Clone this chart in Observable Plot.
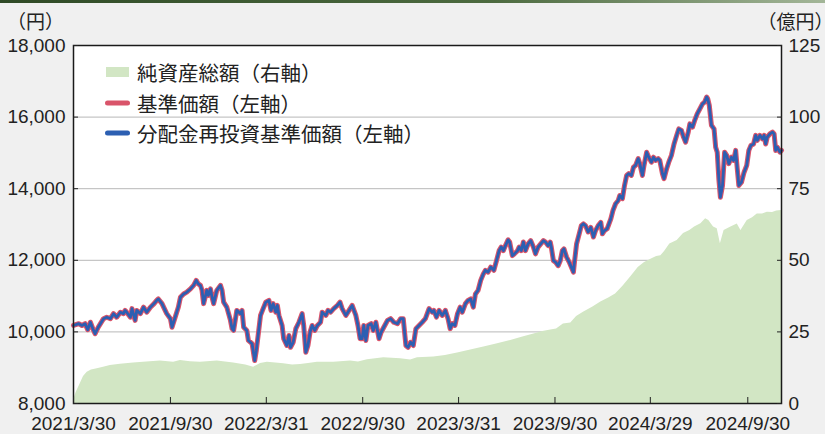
<!DOCTYPE html>
<html><head><meta charset="utf-8">
<script src="https://cdn.jsdelivr.net/npm/d3@7"></script>
<script src="https://cdn.jsdelivr.net/npm/@observablehq/plot@0.6"></script>
<style>
html,body{margin:0;padding:0;background:#f0f0f0;}
#wrap{position:relative;width:825px;height:434px;overflow:hidden;background:#f0f0f0;}
#topbar{position:absolute;left:0;top:0;width:825px;height:3px;background:linear-gradient(to right,#2f4a26,#4d6b40 60%,#a3b698);}
#chart{position:absolute;left:0;top:0;}
.unit{position:absolute;top:11px;font-family:"Noto Sans CJK JP";font-size:19px;line-height:1;color:#222;white-space:nowrap;}
#unitR{font-feature-settings:"halt" 1;}
#legend{position:absolute;left:105px;top:57px;font-family:"Noto Sans CJK JP";font-size:20.5px;color:#222;}
.row{display:flex;align-items:center;height:30.5px;white-space:nowrap;}
.sw{width:25px;margin-right:7px;flex:none;}
</style>
</head><body>
<div id="wrap">
  <div id="chart"></div>
  <div id="topbar"></div>
  <div class="unit" id="unitL" style="left:7px">（円）</div>
  <div class="unit" id="unitR" style="left:767px">（億円）</div>
  <div id="legend"></div>
</div>
<script>
// ---- data ----
const seriesNames = ["純資産総額（右軸）", "基準価額（左軸）", "分配金再投資基準価額（左軸）"];
const seriesColors = ["#d2e6c4", "#d9546a", "#2c5fb2"];

const navDates = [
"2021-03-30","2021-04-09","2021-04-15","2021-04-21","2021-04-26","2021-05-01","2021-05-07","2021-05-10","2021-05-16","2021-05-26",
"2021-06-01","2021-06-08","2021-06-14","2021-06-20","2021-06-27","2021-07-03","2021-07-06","2021-07-09","2021-07-16","2021-07-19",
"2021-07-25","2021-07-28","2021-08-04","2021-08-10","2021-08-16","2021-08-23","2021-08-30","2021-09-04","2021-09-07","2021-09-14",
"2021-09-20","2021-09-23","2021-09-30","2021-10-03","2021-10-09","2021-10-15","2021-10-19","2021-10-25","2021-10-31","2021-11-07",
"2021-11-13","2021-11-18","2021-11-22","2021-11-26","2021-11-29","2021-12-02","2021-12-05","2021-12-08","2021-12-11","2021-12-15",
"2021-12-18","2021-12-21","2021-12-27","2022-01-03","2022-01-06","2022-01-09","2022-01-15","2022-01-22","2022-01-25","2022-01-28",
"2022-02-03","2022-02-10","2022-02-13","2022-02-16","2022-02-22","2022-02-25","2022-03-04","2022-03-09","2022-03-12","2022-03-17",
"2022-03-20","2022-03-25","2022-03-30","2022-04-05","2022-04-09","2022-04-13","2022-04-18","2022-04-21","2022-04-24","2022-04-30",
"2022-05-03","2022-05-09","2022-05-13","2022-05-16","2022-05-21","2022-05-26","2022-06-01","2022-06-07","2022-06-10","2022-06-14",
"2022-06-18","2022-06-22","2022-06-26","2022-07-01","2022-07-06","2022-07-12","2022-07-15","2022-07-22","2022-07-26","2022-07-31",
"2022-08-06","2022-08-13","2022-08-18","2022-08-22","2022-08-29","2022-09-04","2022-09-10","2022-09-17","2022-09-21","2022-09-25",
"2022-09-29","2022-10-02","2022-10-06","2022-10-10","2022-10-16","2022-10-20","2022-10-25","2022-10-31","2022-11-04","2022-11-09",
"2022-11-16","2022-11-22","2022-11-28","2022-12-05","2022-12-11","2022-12-16","2022-12-21","2022-12-25","2022-12-30","2023-01-04",
"2023-01-09","2023-01-15","2023-01-21","2023-01-27","2023-02-03","2023-02-09","2023-02-12","2023-02-17","2023-02-22","2023-02-28",
"2023-03-06","2023-03-11","2023-03-15","2023-03-19","2023-03-24","2023-03-29","2023-04-03","2023-04-07","2023-04-13","2023-04-18",
"2023-04-23","2023-04-28","2023-05-02","2023-05-07","2023-05-12","2023-05-17","2023-05-21","2023-05-26","2023-05-31","2023-06-06",
"2023-06-11","2023-06-16","2023-06-20","2023-06-24","2023-06-28","2023-07-03","2023-07-06","2023-07-11","2023-07-15","2023-07-21",
"2023-07-24","2023-07-28","2023-08-01","2023-08-05","2023-08-10","2023-08-15","2023-08-20","2023-08-24","2023-08-29","2023-09-03",
"2023-09-08","2023-09-12","2023-09-17","2023-09-21","2023-09-23","2023-09-27","2023-10-01","2023-10-06","2023-10-10","2023-10-14",
"2023-10-17","2023-10-22","2023-10-27","2023-10-31","2023-11-04","2023-11-06","2023-11-10","2023-11-15","2023-11-19","2023-11-23",
"2023-11-27","2023-12-02","2023-12-07","2023-12-12","2023-12-16","2023-12-21","2023-12-26","2023-12-29","2024-01-02","2024-01-07",
"2024-01-14","2024-01-18","2024-01-23","2024-01-28","2024-01-31","2024-02-05","2024-02-09","2024-02-13","2024-02-17","2024-02-22",
"2024-02-26","2024-03-01","2024-03-06","2024-03-09","2024-03-14","2024-03-17","2024-03-22","2024-03-26","2024-03-31","2024-04-04",
"2024-04-08","2024-04-13","2024-04-16","2024-04-21","2024-04-24","2024-04-29","2024-05-03","2024-05-08","2024-05-13","2024-05-18",
"2024-05-22","2024-05-27","2024-05-31","2024-06-04","2024-06-09","2024-06-12","2024-06-17","2024-06-21","2024-06-26","2024-07-01",
"2024-07-06","2024-07-10","2024-07-14","2024-07-16","2024-07-19","2024-07-23","2024-07-28","2024-07-31","2024-08-03","2024-08-06",
"2024-08-09","2024-08-13","2024-08-17","2024-08-21","2024-08-25","2024-08-30","2024-09-03","2024-09-07","2024-09-10","2024-09-13",
"2024-09-18","2024-09-23","2024-09-28","2024-10-02","2024-10-06","2024-10-11","2024-10-15","2024-10-18","2024-10-23","2024-10-28",
"2024-10-31","2024-11-03","2024-11-06","2024-11-11","2024-11-16","2024-11-19","2024-11-22","2024-11-25","2024-11-30","2024-12-03"
];
// 基準価額 (円)
const navValues = [
10180,10230,10180,10230,10060,10270,10040,9950,10130,10370,
10410,10370,10510,10410,10550,10510,10600,10550,10410,10650,
10320,10600,10510,10690,10550,10690,10790,10880,10920,10790,
10600,10510,10370,10130,10410,10690,10970,11060,11110,11200,
11300,11440,11340,11300,11160,10790,10970,11160,11020,11200,
10970,10790,11160,11300,11160,10830,10690,10320,10090,10040,
10600,10510,10600,10130,10040,9760,9670,9200,9480,10090,
10460,10650,10830,10880,10600,10790,10550,10740,10460,10180,
9810,9620,9900,9570,9710,10090,10270,10510,10180,9430,
9620,9990,10180,10040,10180,10270,10550,10460,10600,10550,
10650,10740,10830,10650,10460,10600,10740,10460,10180,9810,
9810,10180,9760,10180,10230,10040,10270,9810,9990,10130,
10320,10370,10270,10230,10370,10370,9620,9570,9710,9620,
10090,10180,10270,10370,10650,10550,10600,10410,10600,10460,
10600,10370,10090,10230,10180,10510,10690,10550,10790,10880,
10920,10690,11060,11160,11440,11620,11720,11670,11810,11720,
11990,12270,12370,12270,12410,12570,12510,12130,12180,12270,
12370,12270,12510,12270,12460,12550,12370,12180,12370,12460,
12550,12510,12410,12510,12370,11990,11950,11850,11990,12270,
12320,12090,11950,11810,11670,11950,12460,12740,12970,13020,
12970,12790,12920,12650,12830,12970,13060,12740,12830,12880,
13160,13390,13580,13670,13810,13720,14090,14370,14420,14370,
14600,14650,14840,14700,14370,14650,15020,14880,14740,14880,
14790,14840,14790,14420,14280,14560,14740,14930,15250,15490,
15670,15630,15440,15300,15580,15810,15720,15900,16090,16230,
16370,16420,16560,16510,16320,15770,15670,15160,15020,14280,
13760,14090,15020,14930,14700,14880,14790,15070,14560,14090,
14180,14460,14650,15070,15210,15250,15490,15350,15490,15390,
15490,15250,15440,15530,15580,15530,15070,15160,15020,15070
];
// 分配金再投資基準価額 (円): no distributions paid, identical to 基準価額 in the chart
const reinvestValues = navValues;

// 純資産総額 (億円)
const assetDates = [
"2021-03-30","2021-04-04","2021-04-12","2021-04-18","2021-04-25","2021-05-03","2021-05-14","2021-05-26","2021-06-08","2021-06-27",
"2021-07-22","2021-08-16","2021-09-11","2021-10-06","2021-10-19","2021-11-07","2021-11-26","2021-12-28","2022-01-28","2022-02-20",
"2022-03-07","2022-03-20","2022-04-02","2022-04-18","2022-05-03","2022-05-20","2022-06-04","2022-06-19","2022-07-06","2022-08-06",
"2022-09-07","2022-09-22","2022-10-09","2022-11-09","2022-12-11","2022-12-30","2023-01-12","2023-02-12","2023-03-06","2023-03-29",
"2023-04-23","2023-05-18","2023-06-11","2023-07-08","2023-07-31","2023-08-21","2023-09-07","2023-09-22","2023-10-03","2023-10-16",
"2023-10-30","2023-11-10","2023-11-23","2023-12-11","2023-12-26","2024-01-10","2024-01-23","2024-02-06","2024-02-21","2024-03-06",
"2024-03-18","2024-04-01","2024-04-10","2024-04-18","2024-04-25","2024-05-05","2024-05-19","2024-05-31","2024-06-12","2024-06-21",
"2024-07-03","2024-07-12","2024-07-18","2024-07-27","2024-08-03","2024-08-09","2024-08-16","2024-08-29","2024-09-10","2024-09-17",
"2024-09-29","2024-10-09","2024-10-18","2024-10-28","2024-11-06","2024-11-16","2024-11-24","2024-12-03"
];
const assetValues = [
1.0,3.8,7.0,9.4,10.9,11.7,12.1,12.7,13.3,13.7,
14.1,14.5,14.8,14.4,15.0,14.6,14.4,14.8,14.1,13.4,
12.7,14.0,14.4,14.1,13.9,13.4,13.6,14.0,14.4,14.4,
14.8,14.5,15.3,16.0,15.6,15.2,16.0,16.2,16.8,17.6,
18.7,19.7,20.8,22.0,23.2,24.3,25.1,25.7,26.0,27.8,
28.1,30.4,31.9,33.7,35.4,36.8,38.2,40.9,44.3,47.5,
49.2,50.5,51.3,51.6,53.1,55.7,56.9,59.4,60.4,61.6,
62.8,64.5,63.9,61.6,61.0,55.8,60.4,61.6,62.7,60.4,
63.9,64.9,66.2,66.2,66.8,66.7,67.2,67.4
];

const leftTicks = [8000, 10000, 12000, 14000, 16000, 18000];
const rightTicks = [0, 25, 50, 75, 100, 125];
const xTickDates = ["2021-03-30","2021-09-30","2022-03-31","2022-09-30","2023-03-31","2023-09-30","2024-03-29","2024-09-30"];
const xDomain = ["2021-03-30", "2024-12-03"];

// ---- build tables ----
const parse = d3.utcParse("%Y-%m-%d");
const nav = navDates.map((d, i) => ({date: parse(d), value: navValues[i]}));
const reinvest = navDates.map((d, i) => ({date: parse(d), value: reinvestValues[i]}));
const assets = assetDates.map((d, i) => ({date: parse(d), value: assetValues[i]}));

// secondary (right) axis: 0–125 億円 shares the frame with 8,000–18,000 円
const L0 = leftTicks[0], L1 = leftTicks[leftTicks.length - 1];
const R0 = rightTicks[0], R1 = rightTicks[rightTicks.length - 1];
const toLeft = v => L0 + (v - R0) * (L1 - L0) / (R1 - R0);
const fromLeft = y => R0 + (y - L0) * (R1 - R0) / (L1 - L0);

const chart = Plot.plot({
  width: 825, height: 434,
  marginLeft: 73, marginRight: 44, marginTop: 45, marginBottom: 31,
  style: {background: "transparent", fontFamily: "'Liberation Sans', Arial, sans-serif", fontSize: "19px", color: "#222", overflow: "visible"},
  x: {type: "utc", domain: xDomain.map(parse), label: null},
  y: {domain: [L0, L1], label: null},
  marks: [
    Plot.frame({fill: "white"}),
    Plot.gridY(leftTicks.slice(1, -1), {stroke: "#b8b8b8", strokeOpacity: 1, strokeWidth: 1}),
    Plot.areaY(assets, {x: "date", y1: L0, y2: d => toLeft(d.value), fill: seriesColors[0]}),
    Plot.line(nav, {x: "date", y: "value", stroke: seriesColors[1], strokeWidth: 5, strokeLinejoin: "round"}),
    Plot.line(reinvest, {x: "date", y: "value", stroke: seriesColors[2], strokeWidth: 2.8, strokeLinejoin: "round"}),
    Plot.frame({stroke: "#1a1a1a", strokeWidth: 1.5}),
    Plot.axisY(leftTicks, {anchor: "left", tickSize: 5, insetLeft: 5, tickPadding: 8, tickFormat: d3.format(","), label: null}),
    Plot.axisY(rightTicks.map(toLeft), {anchor: "right", tickSize: 5, insetRight: 5, tickPadding: 7, tickFormat: d => String(Math.round(fromLeft(d))), label: null}),
    Plot.axisX(xTickDates.map(parse), {anchor: "bottom", tickSize: 6, insetBottom: 6, tickPadding: 13, tickFormat: d3.utcFormat("%Y/%-m/%-d"), label: null, style: {letterSpacing: "0.6px"}})
  ]
});
document.getElementById("chart").appendChild(chart);

// ---- legend ----
const legend = document.getElementById("legend");
seriesNames.forEach((name, i) => {
  const row = document.createElement("div");
  row.className = "row";
  const sw = document.createElementNS("http://www.w3.org/2000/svg", "svg");
  sw.setAttribute("class", "sw");
  sw.setAttribute("width", 25); sw.setAttribute("height", 12);
  sw.innerHTML = i === 0
    ? `<rect x="1" y="1" width="23" height="10" fill="${seriesColors[i]}"/>`
    : `<line x1="2.5" y1="6" x2="22.5" y2="6" stroke="${seriesColors[i]}" stroke-width="5" stroke-linecap="round"/>`;
  row.appendChild(sw);
  const t = document.createElement("span");
  t.textContent = name;
  row.appendChild(t);
  legend.appendChild(row);
});
</script>
</body></html>
